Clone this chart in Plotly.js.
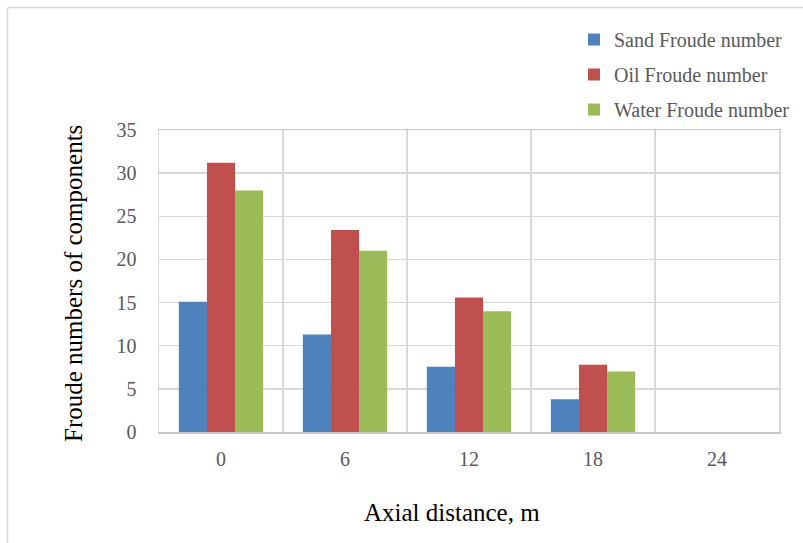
<!DOCTYPE html>
<html>
<head>
<meta charset="utf-8">
<script src="https://cdn.plot.ly/plotly-3.0.1.min.js"></script>
<style>html,body{margin:0;padding:0;background:#fff;}#chart{width:803px;height:543px;}</style>
</head>
<body>
<div id="chart"></div>
<script>
const categories = ["0", "6", "12", "18", "24"];
const sandFroude = [15.1, 11.3, 7.55, 3.8, 0];
const oilFroude = [31.2, 23.4, 15.6, 7.8, 0];
const waterFroude = [28.0, 21.0, 14.0, 7.0, 0];
const seriesNames = ["Sand Froude number", "Oil Froude number", "Water Froude number"];
const yTicks = [0, 5, 10, 15, 20, 25, 30, 35];

const colors = ["#4f81bd", "#c0504d", "#9bbb59"];
const serif = "Liberation Serif";

const series = [sandFroude, oilFroude, waterFroude];
const traces = series.map((vals, i) => ({
  type: "bar",
  x: categories,
  y: vals,
  name: seriesNames[i],
  legendgroup: "g" + i,
  marker: {color: colors[i], line: {width: 0}},
  hoverinfo: "x+y+name"
}));

const L = 159, R = 24, T = 130, B = 111, W = 803, H = 543;
const pw = W - L - R, ph = H - T - B;
const px = v => (v - L) / pw;
const py = v => 1 - (v - T) / ph;

const layout = {
  width: W, height: H,
  margin: {l: L, r: R, t: T, b: B, pad: 0, autoexpand: false},
  paper_bgcolor: "#ffffff",
  plot_bgcolor: "#ffffff",
  barmode: "group",
  bargap: 0.32,
  bargroupgap: 0,
  font: {family: serif, color: "#595959", size: 20},
  showlegend: true,
  legend: {
    x: px(574), y: py(20), xanchor: "left", yanchor: "top",
    font: {family: serif, size: 20, color: "#595959"},
    traceorder: "grouped", tracegroupgap: 6,
    bgcolor: "rgba(0,0,0,0)", itemwidth: 30
  },
  xaxis: {
    type: "category",
    tickson: "boundaries",
    automargin: false,
    showgrid: true, gridcolor: "#d9d9d9", gridwidth: 1.5,
    ticks: "", ticklabelstandoff: 8,
    showline: true, linecolor: "#c8c8c8", linewidth: 1.5, mirror: true,
    tickfont: {family: serif, size: 20, color: "#595959"},
    fixedrange: true
  },
  yaxis: {
    range: [0, 35],
    automargin: false,
    tickvals: yTicks,
    ticktext: yTicks.map(String),
    showgrid: true, gridcolor: "#d9d9d9", gridwidth: 1.5,
    zeroline: false,
    ticks: "outside", ticklen: 17, tickcolor: "rgba(0,0,0,0)",
    showline: true, linecolor: "#d9d9d9", linewidth: 1.5, mirror: true,
    tickfont: {family: serif, size: 20, color: "#595959"},
    fixedrange: true
  },
  annotations: [
    {text: "Axial distance, m", xref: "paper", yref: "paper", x: px(452), y: py(512),
     xanchor: "center", yanchor: "middle", showarrow: false,
     font: {family: serif, size: 25, color: "#000000"}},
    {text: "Froude numbers of components", xref: "paper", yref: "paper", x: px(73), y: py(284),
     xanchor: "center", yanchor: "middle", showarrow: false, textangle: -90,
     font: {family: serif, size: 25, color: "#000000"}}
  ],
  shapes: [
    {type: "line", xref: "paper", yref: "paper", x0: px(7.5), x1: px(7.5), y0: py(7.5), y1: py(560),
     line: {color: "#d9d9d9", width: 1.5}},
    {type: "line", xref: "paper", yref: "paper", x0: px(7.5), x1: px(820), y0: py(7.5), y1: py(7.5),
     line: {color: "#d9d9d9", width: 1.5}}
  ]
};

Plotly.newPlot("chart", traces, layout, {displayModeBar: false, staticPlot: true});
</script>
</body>
</html>
